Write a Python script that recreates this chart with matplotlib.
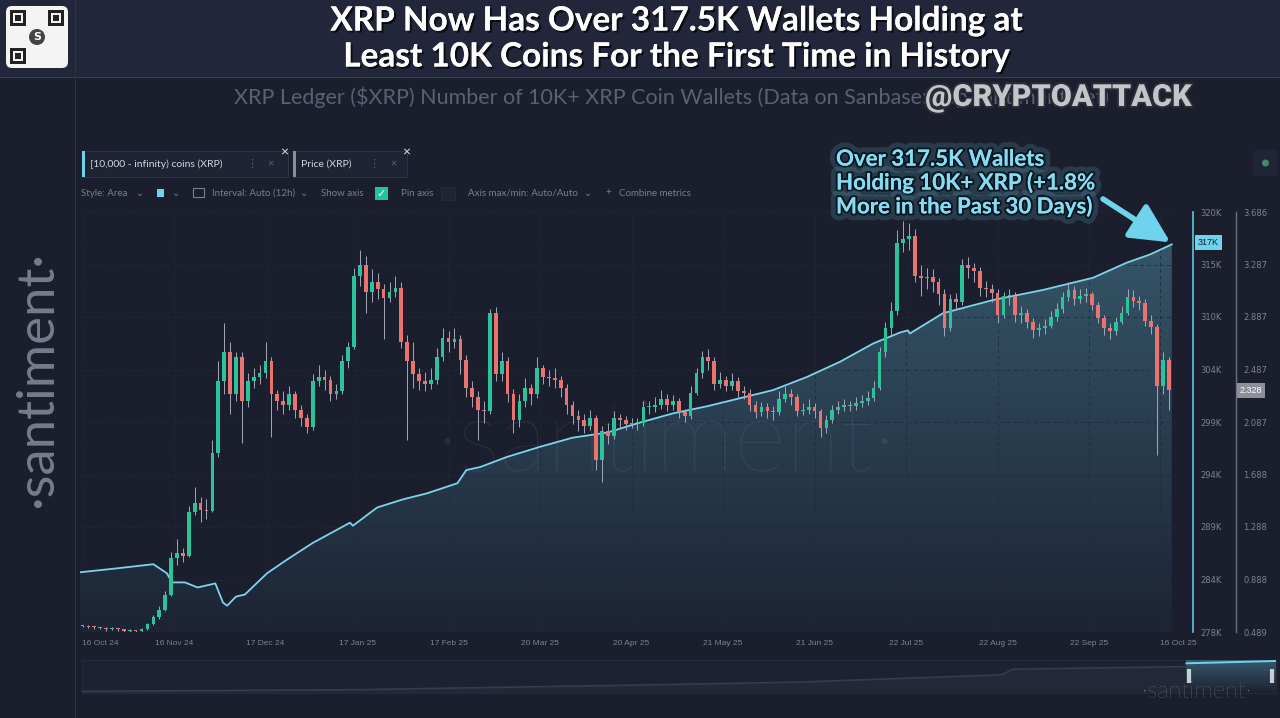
"""XRP wallets holding 10K+ coins vs XRP price (Santiment style chart)."""

import numpy as np
import matplotlib
matplotlib.use("Agg")
from matplotlib import pyplot as plt
from matplotlib import patheffects as pe
from matplotlib.colors import LinearSegmentedColormap
from matplotlib.patches import Polygon, Rectangle, Circle, FancyBboxPatch
from matplotlib.transforms import IdentityTransform

W, H = 1280, 718

# wallets holding >= 10K XRP, thousands (day 0 = 16 Oct 24)
wallet_days = [-0.8, 12, 24, 28.6, 30.3, 34.7, 39, 45, 47.6, 49, 52, 55, 62.5, 69, 78,
               90.6, 91.6, 99.8, 108.5, 116.7, 127, 130, 134.7, 143.8, 155, 166, 177.7,
               188.9, 200, 211.5, 222.7, 233.9, 245.4, 256.6, 267.8, 277, 279.6, 280.3,
               291.5, 308.4, 325.4, 342.3, 353.8, 361.6, 369]
wallet_k = [284.4, 284.8, 285.2, 284.3, 283.4, 283.4, 282.9, 283.3, 281.4, 281.1, 282.0,
            282.2, 284.3, 285.6, 287.3, 289.3, 289.0, 290.8, 291.6, 292.2, 293.2, 294.5,
            294.8, 295.8, 296.8, 297.7, 298.2, 299.2, 300.1, 300.8, 301.6, 302.4, 303.7,
            305.2, 307.0, 308.1, 308.3, 308.0, 310.0, 311.3, 312.3, 313.5, 315.0, 315.8,
            316.8]

# XRP price, 2-day candles
candle_step = 2
first_open = 0.54
closes = [
    .535, .53, .525, .52, .51, .515, .51, .50, .50, .495,
    .51, .55, .60, .66, .77, 1.05, 1.09, 1.07, 1.40, 1.47,
    1.42, 1.41, 1.85, 2.40, 2.62, 2.30, 2.58, 2.25, 2.40, 2.43,
    2.46, 2.55, 2.30, 2.25, 2.22, 2.30, 2.18, 2.12, 2.05, 2.40,
    2.43, 2.41, 2.30, 2.32, 2.55, 2.66, 3.20, 3.28, 3.08, 3.15,
    3.10, 3.03, 3.08, 3.11, 2.70, 2.55, 2.45, 2.40, 2.38, 2.41,
    2.58, 2.73, 2.70, 2.72, 2.56, 2.35, 2.28, 2.18, 2.17, 2.92,
    2.45, 2.55, 2.30, 2.10, 2.25, 2.35, 2.30, 2.50, 2.43, 2.42,
    2.41, 2.35, 2.22, 2.13, 2.10, 2.06, 2.12, 1.80, 2.02, 1.98,
    2.12, 2.10, 2.07, 2.08, 2.08, 2.20, 2.20, 2.22, 2.26, 2.22,
    2.25, 2.16, 2.13, 2.31, 2.46, 2.58, 2.55, 2.38, 2.41, 2.36,
    2.40, 2.32, 2.31, 2.22, 2.16, 2.20, 2.17, 2.16, 2.26, 2.30,
    2.28, 2.17, 2.18, 2.20, 2.17, 2.04, 2.10, 2.18, 2.20, 2.22,
    2.21, 2.23, 2.25, 2.27, 2.35, 2.62, 2.80, 2.93, 3.45, 3.48,
    3.50, 3.20, 3.18, 3.19, 3.15, 3.06, 2.80, 3.02, 3.00, 3.28,
    3.26, 3.24, 3.11, 3.10, 3.07, 2.90, 3.05, 3.05, 2.90, 2.92,
    2.85, 2.79, 2.80, 2.82, 2.89, 2.95, 3.04, 3.09, 3.02, 3.05,
    3.06, 2.98, 2.88, 2.80, 2.78, 2.85, 2.92, 3.04, 3.01, 2.99,
    2.86, 2.81, 2.36, 2.56, 2.33,
]
highs = [
    .545, .54, .535, .53, .525, .525, .52, .515, .51, .505,
    .52, .56, .62, .69, .80, 1.10, 1.20, 1.13, 1.45, 1.59,
    1.52, 1.50, 1.95, 2.55, 2.84, 2.70, 2.62, 2.62, 2.46, 2.50,
    2.52, 2.70, 2.58, 2.33, 2.32, 2.36, 2.32, 2.22, 2.15, 2.45,
    2.52, 2.48, 2.44, 2.38, 2.60, 2.70, 3.26, 3.40, 3.35, 3.25,
    3.22, 3.14, 3.15, 3.20, 3.15, 2.75, 2.70, 2.50, 2.47, 2.50,
    2.65, 2.80, 2.78, 2.80, 2.75, 2.60, 2.40, 2.32, 2.25, 2.95,
    2.96, 2.62, 2.58, 2.34, 2.30, 2.42, 2.38, 2.58, 2.52, 2.48,
    2.50, 2.44, 2.38, 2.25, 2.18, 2.15, 2.18, 2.14, 2.06, 2.08,
    2.17, 2.15, 2.13, 2.12, 2.12, 2.25, 2.25, 2.28, 2.33, 2.30,
    2.29, 2.27, 2.19, 2.36, 2.50, 2.63, 2.64, 2.58, 2.47, 2.44,
    2.46, 2.43, 2.36, 2.34, 2.25, 2.24, 2.23, 2.21, 2.32, 2.36,
    2.34, 2.30, 2.23, 2.26, 2.23, 2.19, 2.14, 2.22, 2.25, 2.26,
    2.25, 2.28, 2.29, 2.32, 2.40, 2.66, 2.85, 3.00, 3.55, 3.62,
    3.60, 3.56, 3.28, 3.26, 3.25, 3.18, 3.10, 3.06, 3.07, 3.33,
    3.34, 3.30, 3.27, 3.16, 3.14, 3.10, 3.08, 3.10, 3.08, 2.97,
    2.95, 2.88, 2.84, 2.87, 2.93, 2.99, 3.08, 3.15, 3.12, 3.10,
    3.11, 3.08, 3.00, 2.90, 2.84, 2.89, 2.97, 3.10, 3.09, 3.05,
    3.02, 2.90, 2.83, 2.62, 2.58,
]
lows = [
    .525, .52, .515, .51, .50, .505, .50, .49, .49, .49,
    .49, .505, .54, .59, .65, .76, 1.00, 1.02, 1.06, 1.38,
    1.33, 1.35, 1.40, 1.82, 2.30, 2.15, 2.25, 1.93, 2.20, 2.35,
    2.38, 2.42, 1.97, 2.18, 2.15, 2.18, 2.12, 2.06, 2.00, 2.03,
    2.36, 2.33, 2.25, 2.26, 2.30, 2.50, 2.64, 3.12, 2.92, 3.00,
    3.02, 2.72, 3.00, 3.04, 2.65, 1.95, 2.35, 2.33, 2.32, 2.34,
    2.38, 2.55, 2.62, 2.65, 2.45, 2.28, 2.20, 1.95, 2.08, 2.15,
    2.40, 2.40, 2.24, 2.00, 2.05, 2.20, 2.22, 2.27, 2.38, 2.36,
    2.35, 2.28, 2.15, 2.07, 2.02, 2.00, 2.03, 1.72, 1.63, 1.92,
    1.96, 2.04, 2.03, 2.04, 2.03, 2.06, 2.15, 2.16, 2.19, 2.17,
    2.18, 2.12, 2.09, 2.11, 2.29, 2.42, 2.48, 2.33, 2.35, 2.32,
    2.33, 2.28, 2.26, 2.17, 2.12, 2.13, 2.12, 2.10, 2.14, 2.24,
    2.22, 2.13, 2.14, 2.15, 2.12, 1.97, 2.00, 2.08, 2.15, 2.17,
    2.17, 2.18, 2.20, 2.22, 2.25, 2.33, 2.58, 2.75, 2.90, 3.38,
    3.40, 3.15, 3.05, 3.10, 3.08, 2.98, 2.74, 2.78, 2.94, 2.98,
    3.18, 3.15, 3.05, 3.04, 3.00, 2.84, 2.88, 2.98, 2.85, 2.84,
    2.80, 2.73, 2.74, 2.76, 2.80, 2.86, 2.92, 3.01, 2.98, 2.99,
    3.00, 2.94, 2.84, 2.75, 2.72, 2.75, 2.83, 2.90, 2.96, 2.94,
    2.82, 2.76, 1.84, 2.30, 2.18,
]

date_days = [0, 31, 62, 93, 124, 155, 186, 217, 248, 279, 310, 341, 365]
date_labels = ["16 Oct 24", "16 Nov 24", "17 Dec 24", "17 Jan 25", "17 Feb 25",
               "20 Mar 25", "20 Apr 25", "21 May 25", "21 Jun 25", "22 Jul 25",
               "22 Aug 25", "22 Sep 25", "16 Oct 25"]
wallet_lim = (278.5, 320.0)
wallet_tick_labels = ["278K", "284K", "289K", "294K", "299K", "304K", "310K", "315K", "320K"]
price_lim = (0.489, 3.686)
price_tick_labels = ["0.489", "0.888", "1.288", "1.688", "2.087", "2.487", "2.887",
                     "3.287", "3.686"]
last_wallet_label = "317K"
last_price = 2.328

# navigator (full history): position 0..1, level 0..1
nav_pos = [0.0, 0.23, 0.48, 0.60, 0.77, 0.78, 0.925]
nav_level = [0.05, 0.10, 0.25, 0.33, 0.55, 0.72, 0.80]

BG = "#1b1e2c"
CYAN = "#6fd3ee"
GREEN = "#2cc39b"
RED = "#e9736f"
GRAY = "#7d8292"
PX = IdentityTransform()


def ptext(fig, x, y, s, **kw):
    """Text at pixel position (origin top-left)."""
    return fig.text(x, H - y, s, transform=PX, **kw)


def prect(fig, x0, y0, x1, y1, **kw):
    kw.setdefault("zorder", 0.5)
    r = Rectangle((x0, H - y1), x1 - x0, y1 - y0, transform=PX, **kw)
    fig.patches.append(r)
    return r


def main():
    fig = plt.figure(figsize=(W / 100, H / 100), dpi=100, facecolor=BG)
    ui = ["Lato", "DejaVu Sans"]

    # frame: title band, separators, QR tile
    prect(fig, 0, 0, W, 77, facecolor="#22263a", edgecolor="none", zorder=0)
    prect(fig, 0, 77, W, 78, facecolor="#3a3f52", edgecolor="none", zorder=0)
    prect(fig, 74.5, 0, 75.5, H, facecolor="#2c3144", edgecolor="none", zorder=0)
    qr = FancyBboxPatch((6, H - 68), 62, 62, boxstyle="round,pad=0,rounding_size=6",
                        transform=PX, facecolor="#f4f4f4", edgecolor="none", zorder=1)
    fig.patches.append(qr)
    for qx, qy in [(10, 10), (48, 10), (10, 48)]:
        prect(fig, qx, qy, qx + 16, qy + 16, facecolor="#222", edgecolor="none", zorder=2)
        prect(fig, qx + 3, qy + 3, qx + 13, qy + 13, facecolor="#f4f4f4",
              edgecolor="none", zorder=2)
        prect(fig, qx + 5, qy + 5, qx + 11, qy + 11, facecolor="#222",
              edgecolor="none", zorder=2)
    fig.patches.append(Circle((37, H - 37), 8, transform=PX, facecolor="#444",
                              edgecolor="none", zorder=2))
    ptext(fig, 37, 37, "S", color="white", fontsize=8, weight="bold", ha="center",
          va="center", zorder=3)

    shadow = [pe.withSimplePatchShadow(offset=(1.5, -1.5), shadow_rgbFace="black",
                                       alpha=0.7), pe.Normal()]
    ptext(fig, 677, 21, "XRP Now Has Over 317.5K Wallets Holding at", color="white",
          fontsize=24, weight="bold", family="Lato", ha="center", va="center",
          path_effects=shadow)
    ptext(fig, 677, 57, "Least 10K Coins For the First Time in History", color="white",
          fontsize=24, weight="bold", family="Lato", ha="center", va="center",
          path_effects=shadow)
    ptext(fig, 672, 97, "XRP Ledger ($XRP) Number of 10K+ XRP Coin Wallets "
          "(Data on Sanbase: app.santiment.net)", color="#5b6072", fontsize=15.5,
          family="Lato", ha="center", va="center")
    ptext(fig, 1058, 97, "@CRYPTOATTACK", color="#c4c5ca", fontsize=22, weight="heavy",
          family=["Roboto", "DejaVu Sans"], ha="center", va="center",
          path_effects=[pe.withStroke(linewidth=3, foreground="#2a2d36")])

    # metric chips
    for x0, x1, bar, label, dots, close, top in [
        (82, 288, CYAN, "[10,000 - infinity) coins (XRP)", 252, 271, 284),
        (293, 407, "#8a8e99", "Price (XRP)", 374, 394, 406),
    ]:
        prect(fig, x0, 151, x1, 177, facecolor="#1f2434", edgecolor="#2d3345", lw=0.8)
        prect(fig, x0, 151, x0 + 3, 177, facecolor=bar, edgecolor="none")
        ptext(fig, x0 + 8, 164, label, color="#d2d5de", fontsize=7.5, family=ui,
              va="center")
        ptext(fig, dots, 164, "⋮", color="#5c6172", fontsize=8, family=ui,
              ha="center", va="center")
        ptext(fig, close, 164, "×", color="#5c6172", fontsize=8, family=ui,
              ha="center", va="center")
        ptext(fig, top, 152, "×", color="#e6e6e6", fontsize=10, family=ui,
              ha="center", va="center")

    # controls row
    ctl = dict(color="#7a7f91", fontsize=7, family=ui, va="center")
    for x, s in [(81, "Style: Area"), (136, "⌄"), (172, "⌄"),
                 (212, "Interval: Auto (12h)"), (300, "⌄"), (321, "Show axis"),
                 (401, "Pin axis"), (468, "Axis max/min: Auto/Auto"), (584, "⌄"),
                 (605, "+"), (619, "Combine metrics")]:
        ptext(fig, x, 193, s, **ctl)
    prect(fig, 157, 189, 164, 197, facecolor=CYAN, edgecolor="none")
    prect(fig, 193, 188, 204, 197, facecolor="none", edgecolor="#7a7f91", lw=0.8)
    prect(fig, 375, 187, 388, 200, facecolor="#22c59a", edgecolor="none")
    ptext(fig, 381.5, 193.5, "✓", color="white", fontsize=8, family="DejaVu Sans",
          ha="center", va="center")
    prect(fig, 441, 187, 455, 200, facecolor="#202536", edgecolor="#262b3c", lw=0.8)
    icon = FancyBboxPatch((1253, H - 176), 25, 26, boxstyle="round,pad=0,rounding_size=4",
                          transform=PX, facecolor="#1f2536", edgecolor="none")
    fig.patches.append(icon)
    fig.patches.append(Circle((1265.5, H - 163), 3.5, transform=PX,
                              facecolor="#3f8a70", edgecolor="none"))

    # side watermark
    ptext(fig, 38, 379, "·santiment·", color="#777b8c", fontsize=38, family="Lato",
          rotation=90, ha="center", va="center")

    # main axes
    x_lo = (80 - 82.5) / 2.952
    x_hi = (1175 - 82.5) / 2.952
    ax = fig.add_axes([80 / W, (H - 632) / H, 1095 / W, 420 / H])
    ax.set_facecolor("none")
    ax2 = ax.twinx()

    ax.text(0.535, 0.45, "·santiment·", transform=ax.transAxes, fontsize=72,
            family="Lato", weight="light", color="#a0acc0", alpha=0.12,
            ha="center", va="center", zorder=3)

    # gradient area under the wallet line
    verts = ([(wallet_days[0], wallet_lim[0])] + list(zip(wallet_days, wallet_k))
             + [(wallet_days[-1], wallet_lim[0])])
    clip = Polygon(verts, closed=True, facecolor="none", edgecolor="none")
    ax.add_patch(clip)
    cmap = LinearSegmentedColormap.from_list("area", ["#1c2435", "#37596c"])
    grad = np.linspace(1, 0, 256).reshape(-1, 1)
    im = ax.imshow(grad, extent=[x_lo, x_hi, wallet_lim[0], wallet_lim[1]],
                   aspect="auto", cmap=cmap, origin="upper", zorder=1)
    im.set_clip_path(clip)
    ax.plot(wallet_days, wallet_k, color="#7fd3ea", lw=1.3, zorder=4)
    ax.set_xlim(x_lo, x_hi)
    ax.set_ylim(*wallet_lim)

    ax.set_yticks(np.linspace(*wallet_lim, len(wallet_tick_labels)))
    ax.set_yticklabels(wallet_tick_labels)
    ax.yaxis.tick_right()
    ax.set_xticks(date_days)
    ax.set_xticklabels(date_labels)
    xt = ax.get_xticklabels()
    xt[0].set_ha("left")
    xt[-1].set_ha("left")
    ax.tick_params(axis="both", length=0, labelsize=6, labelcolor=GRAY)
    ax.tick_params(axis="y", pad=5, left=False, labelleft=False, right=True,
                   labelright=True)
    ax.tick_params(axis="x", pad=6)
    for lab in ax.get_xticklabels() + ax.get_yticklabels():
        lab.set_family("Liberation Sans")
    ax.grid(True, color="#242939", lw=0.6, ls=(0, (4, 4)), zorder=0)
    for s in ("left", "top", "bottom"):
        ax.spines[s].set_visible(False)
    ax.spines["right"].set_position(("outward", 13))
    ax.spines["right"].set_color("#5fc6e0")
    ax.spines["right"].set_linewidth(1.2)

    ax.annotate(last_wallet_label, xy=(1.0305, wallet_k[-1] + 0.2),
                xycoords=ax.get_yaxis_transform(), fontsize=6.5, color="#10212b",
                family="Liberation Sans", ha="center", va="center",
                bbox=dict(boxstyle="square,pad=0.3", facecolor=CYAN, edgecolor="none"),
                annotation_clip=False)

    # price candles
    ax2.set_ylim(*price_lim)
    opens = [first_open] + closes[:-1]
    days = np.arange(len(closes)) * candle_step
    o = np.array(opens)
    c = np.array(closes)
    up = c >= o
    ax2.vlines(days, lows, highs, color="#a3a8ba", lw=0.7, zorder=2)
    body_lo = np.minimum(o, c)
    body_h = np.maximum(np.abs(c - o), 0.008)
    ax2.bar(days, body_h, bottom=body_lo, width=1.25,
            color=np.where(up, GREEN, RED), edgecolor="none", zorder=3)
    ax2.set_yticks(np.linspace(*price_lim, len(price_tick_labels)))
    ax2.set_yticklabels(price_tick_labels)
    ax2.tick_params(axis="y", length=0, pad=5, labelsize=6, labelcolor=GRAY)
    for lab in ax2.get_yticklabels():
        lab.set_family("Liberation Sans")
    for s in ("left", "top", "bottom"):
        ax2.spines[s].set_visible(False)
    ax2.spines["right"].set_position(("outward", 44))
    ax2.spines["right"].set_color("#6e7382")
    ax2.spines["right"].set_linewidth(1.0)
    ax2.annotate(f"{last_price:.3f}", xy=(1.0694, last_price),
                 xycoords=ax2.get_yaxis_transform(), fontsize=6.5, color="white",
                 family="Liberation Sans", ha="center", va="center",
                 bbox=dict(boxstyle="square,pad=0.3", facecolor="#8e9099",
                           edgecolor="none"),
                 annotation_clip=False)

    # callout
    glow = [pe.withStroke(linewidth=10, foreground=CYAN, alpha=0.16),
            pe.withStroke(linewidth=3, foreground="#0b1720"), pe.Normal()]
    ptext(fig, 836, 183, "Over 317.5K Wallets\nHolding 10K+ XRP (+1.8%\n"
          "More in the Past 30 Days)", color="#86dcf2", fontsize=16, weight="bold",
          family="Lato", va="center", ha="left", linespacing=1.1, path_effects=glow,
          zorder=6)
    ax2.annotate("", xy=(wallet_days[-1] - 0.5, wallet_k[-1] + 0.2),
                 xycoords=ax.transData,
                 xytext=(1103 / W, 1 - 199 / H), textcoords="figure fraction",
                 arrowprops=dict(arrowstyle="-|>,head_length=1.2,head_width=0.6",
                                 mutation_scale=20, lw=4, color=CYAN,
                                 shrinkA=0, shrinkB=0),
                 annotation_clip=False, zorder=6)

    # navigator strip
    prect(fig, 82, 660, 1276, 693, facecolor="#1d2131", edgecolor="#262b3b", lw=0.8,
          zorder=0.2)
    nav = fig.add_axes([82 / W, (H - 693) / H, 1194 / W, 33 / H])
    nav.set_zorder(1)
    nav.set_facecolor("none")
    nav.set_xlim(0, 1)
    nav.set_ylim(0, 1)
    nav.axis("off")
    nav.fill_between(nav_pos, 0, nav_level, color="#232839", lw=0)
    nav.plot(nav_pos, nav_level, color="#363c4f", lw=1.2)
    win_lo = nav_pos[-1]
    win_grad = np.linspace(1, 0, 64).reshape(-1, 1)
    wcm = LinearSegmentedColormap.from_list("win", ["#1d2131", "#35596b"])
    nav.imshow(win_grad, extent=[win_lo, 1.0, 0, 0.97], aspect="auto", cmap=wcm,
               origin="upper", zorder=1)
    nav.plot([win_lo, 1.0], [0.90, 0.97], color=CYAN, lw=1.4, zorder=2)
    nav.vlines([win_lo + 0.002, 0.997], 0.3, 0.72, color="#c9cdd6", lw=3, zorder=3)
    nav.set_xlim(0, 1)
    nav.set_ylim(0, 1)

    ptext(fig, 1197, 691, "·santiment·", color="#7f8392", fontsize=17, family="Lato",
          weight="light", ha="center", va="center", zorder=5)

    fig.savefig("out.png", dpi=100, facecolor=BG)


if __name__ == "__main__":
    main()
